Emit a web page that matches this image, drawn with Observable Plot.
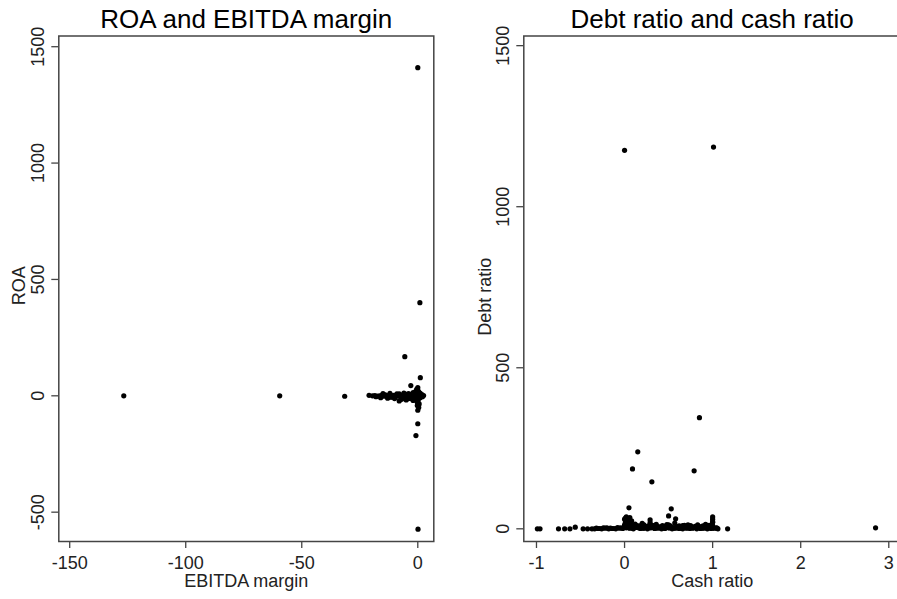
<!DOCTYPE html>
<html><head><meta charset="utf-8">
<script src="https://cdn.jsdelivr.net/npm/d3@7"></script>
<script src="https://cdn.jsdelivr.net/npm/@observablehq/plot@0.6"></script>
<style>
html,body{margin:0;padding:0;background:#fff;overflow:hidden;}
#wrap{position:relative;width:897px;height:599px;overflow:hidden;background:#fff;}
#left{position:absolute;left:0;top:0;width:450px;height:599px;}
#right{position:absolute;left:460px;top:0;width:445px;height:599px;}
#wrap svg{max-width:none !important;display:block;}
</style></head><body><div id="wrap"><div id="left"></div><div id="right"></div></div>
<script>
// ---- Left panel: ROA vs EBITDA margin ----
const ebitdaMargin = [
  0.0, 0.9, -5.6, 1.1, -3.0, -126.7, -59.5, -31.5, 0.0, -0.8, 0.1,
  -21.0, -19.5, -18.5, -17.5, -16.5, -15.5, -14.5, -13.5, -12.5, -11.5, -10.5, -9.5, -8.5, -7.5, -6.5, -5.5, -4.5, -3.5, -2.5, -1.5, -0.5, 0.5, 1.5, 2.5,
  -15.0, -12.0, -9.0, -6.0, -4.0, -2.0, -1.0, 0.0, 1.0,
  -16.0, -13.0, -10.0, -8.0, -7.0, -5.0, -3.0, -2.0, -1.0, 0.0, 1.0,
  0.0, -0.5, 0.3, 0.0, -0.2, 0.4, 0.0, -0.3, 0.2, 1.2,
  -11.0, -9.0, -7.0, -5.0, -3.0, -2.0, -1.2, -0.3, 0.7, 1.8, 0.6, -0.1,
  -18.0, -14.0, -12.0, -8.0, -6.0, -4.0, -2.8, -1.8, -0.8, 0.2, 1.0, 2.0
];
const roa = [
  1410, 400, 168, 78, 44, 0, 0, -2, -120, -171, -573,
  2, 0, 1, -1, 0, 2, -2, 1, 0, -3, 2, 1, -2, 0, 3, -1, 2, 0, -2, 1, 0, 3, -1, 1,
  9, 11, 8, 12, 10, 14, 18, 22, 12,
  -8, -10, -12, -22, -15, -18, -12, -20, -14, -10, -8,
  35, 28, 18, -30, -42, -50, -62, -25, 5, -5,
  -6, 5, -8, 6, -5, 7, -9, 10, -6, 5, -35, 15,
  -4, 4, -6, 8, -10, -12, 6, -8, 8, -18, 4, -4
];
const leftXTicks = [-150, -100, -50, 0];
const leftYTicks = [-500, 0, 500, 1000, 1500];

// ---- Right panel: Debt ratio vs Cash ratio ----
const cashRatio = [
  0.0, 1.01, 0.85, 0.15, 0.09, 0.31, 0.79, 0.05, 0.53, 0.50, 0.29, 0.58, 2.85, 1.17,
  -0.99, -0.96, -0.75, -0.68, -0.62, -0.56, -0.47, -0.42, -0.37,
  -0.34, -0.30, -0.26, -0.22, -0.18, -0.14, -0.10, -0.06, -0.02, 0.02, 0.06, 0.10, 0.14, 0.18, 0.22, 0.26, 0.30, 0.34, 0.38, 0.42, 0.46, 0.50, 0.54, 0.58, 0.62, 0.66, 0.70, 0.74, 0.78, 0.82, 0.86, 0.90, 0.94, 0.98, 1.02, 1.06,
  0.03, 0.10, 0.17, 0.24, 0.31, 0.38, 0.45, 0.52, 0.59, 0.66, 0.73, 0.80, 0.87, 0.94, 0.99,
  0.01, 0.05, 0.12, 0.20, 0.29, 0.36, 0.48, 0.57, 0.72, 0.92, 1.00,
  0.00, 0.02, 0.04, 0.06, 0.08, 0.01, 0.05, 1.00, 1.00, 1.00, 1.00,
  -0.32, -0.20, -0.08, 0.04, 0.08, 0.13, 0.19, 0.25, 0.33, 0.40, 0.47, 0.55, 0.63, 0.69, 0.76, 0.84, 0.91, 0.97, 1.04,
  0.03, 0.07, 0.00,
  0.00, 0.05, 0.09, 0.16, 0.21, 0.28, 0.35, 0.41, 0.44, 0.51, 0.56, 0.61, 0.65, 0.71, 0.77, 0.81, 0.88, 0.93, 1.00, 1.05,
  -0.28, -0.24, -0.16, -0.12, -0.04,
  0.02, 0.08, 0.14, 0.22, 0.27, 0.34, 0.43, 0.50, 0.62, 0.68, 0.75, 0.83, 0.89, 0.96
];
const debtRatio = [
  1175, 1185, 345, 239, 186, 146, 180, 65, 62, 40, 28, 31, 3, 0,
  0, 0, 0, 0, 0, 5, 0, 0, 0,
  0, 1, 0, 2, 0, 1, 0, 2, 1, 3, 2, 0, 4, 1, 2, 0, 3, 1, 2, 0, 1, 3, 0, 2, 1, 0, 2, 1, 3, 0, 1, 2, 0, 1, 2, 0,
  10, 8, 9, 7, 11, 6, 8, 9, 7, 10, 6, 8, 7, 9, 12,
  20, 25, 15, 17, 19, 14, 13, 18, 12, 14, 22,
  30, 37, 28, 35, 25, 33, 15, 10, 20, 30, 37,
  2, 3, 4, 6, 5, 4, 6, 5, 4, 6, 5, 4, 6, 5, 4, 6, 5, 4, 3,
  20, 18, 12,
  8, 3, 2, 3, 2, 3, 2, 3, 2, 3, 2, 3, 2, 3, 2, 3, 2, 3, 2, 2,
  1, 3, 2, 1, 3,
  13, 11, 10, 12, 9, 11, 10, 12, 9, 11, 10, 12, 9, 11
];
const rightXTicks = [-1, 0, 1, 2, 3];
const rightYTicks = [0, 500, 1000, 1500];

const FONT = "'Liberation Sans', Arial, Helvetica, sans-serif";
const fmt = d => String(d);

function panel({w, mL, mR, xDomain, yDomain, xTicks, yTicks, title, xLabel, yLabel, xs, ys, yLabelDx, yLabelDy}) {
  const data = xs.map((x, i) => ({x, y: ys[i]}));
  return Plot.plot({
    width: w, height: 599,
    marginLeft: mL, marginRight: mR, marginTop: 35.5, marginBottom: 58,
    style: {fontFamily: FONT, fontSize: "18px", color: "#222", background: "white", overflow: "visible", maxWidth: "none"},
    x: {domain: xDomain},
    y: {domain: yDomain},
    marks: [
      Plot.axisX({ticks: xTicks, tickFormat: fmt, tickSize: 7, tickPadding: 7.7, label: null, stroke: "#444", strokeWidth: 1.3}),
      Plot.axisY({ticks: yTicks, tickFormat: fmt, tickSize: 7, tickPadding: 7.9, tickRotate: -90, label: null, stroke: "#444", strokeWidth: 1.3}),
      Plot.frame({stroke: "#444", strokeWidth: 1.5}),
      Plot.dot(data, {x: "x", y: "y", r: 2.6, fill: "black"}),
      Plot.text([title], {frameAnchor: "top", lineAnchor: "bottom", dy: -8.2, fontSize: 26, fill: "black"}),
      Plot.text([xLabel], {frameAnchor: "bottom", lineAnchor: "bottom", dy: 45.7, fontSize: 18, fill: "#222"}),
      Plot.text([yLabel], {frameAnchor: "left", textAnchor: "middle", rotate: -90, dx: yLabelDx, dy: yLabelDy, fontSize: 18, fill: "#222"})
    ]
  });
}

document.getElementById("left").append(panel({
  w: 450, mL: 58.3, mR: 16.7,
  xDomain: [-154.7, 6.9], yDomain: [-626, 1546],
  xTicks: leftXTicks, yTicks: leftYTicks,
  title: "ROA and EBITDA margin", xLabel: "EBITDA margin", yLabel: "ROA",
  xs: ebitdaMargin, ys: roa, yLabelDx: -39.5, yLabelDy: -3
}));
document.getElementById("right").append(panel({
  w: 445, mL: 63.3, mR: 5,
  xDomain: [-1.144, 3.133], yDomain: [-39.4, 1530],
  xTicks: rightXTicks, yTicks: rightYTicks,
  title: "Debt ratio and cash ratio", xLabel: "Cash ratio", yLabel: "Debt ratio",
  xs: cashRatio, ys: debtRatio, yLabelDx: -38.3, yLabelDy: 8
}));
</script></body></html>
